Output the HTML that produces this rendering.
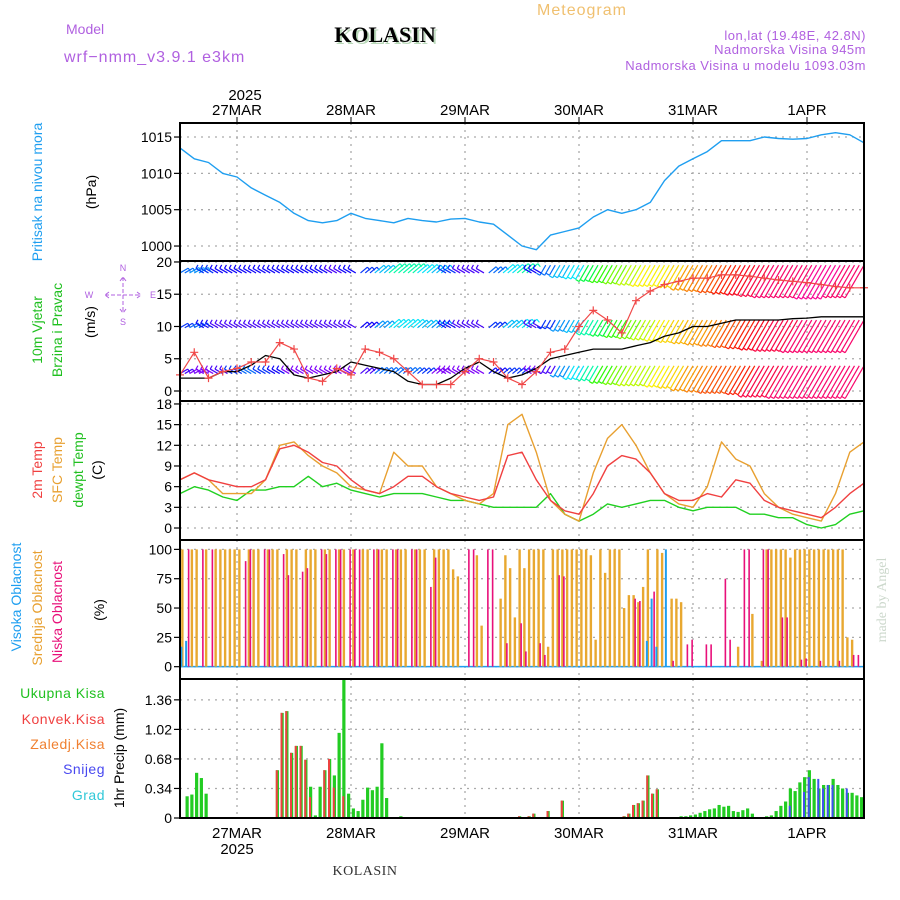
<!DOCTYPE html>
<html><head><meta charset="utf-8">
<style>
html,body{margin:0;padding:0;background:#fff;}
svg{display:block;font-family:"Liberation Sans",sans-serif;}
</style></head>
<body>
<svg id="chart" width="900" height="900" viewBox="0 0 900 900" xmlns="http://www.w3.org/2000/svg">
<rect x="0" y="0" width="900" height="900" fill="#fff"/>
<text x="582" y="15" font-size="16" fill="#f0c070" text-anchor="middle" letter-spacing="1">Meteogram</text>
<text x="66" y="34" font-size="14" fill="#b060e0">Model</text>
<text x="64" y="62" font-size="16" fill="#b060e0" letter-spacing="1">wrf−nmm_v3.9.1 e3km</text>
<text x="387" y="44" font-size="22" font-weight="bold" fill="#b8d8b8" text-anchor="middle" font-family="Liberation Serif,serif">KOLASIN</text>
<text x="385" y="42" font-size="22" font-weight="bold" fill="#000" text-anchor="middle" font-family="Liberation Serif,serif">KOLASIN</text>
<text x="866" y="40" font-size="13" fill="#b060e0" text-anchor="end" letter-spacing="0.5">lon,lat (19.48E, 42.8N)</text>
<text x="866" y="54" font-size="13" fill="#b060e0" text-anchor="end" letter-spacing="0.5">Nadmorska Visina 945m</text>
<text x="866" y="70" font-size="13" fill="#b060e0" text-anchor="end" letter-spacing="0.5">Nadmorska Visina u modelu 1093.03m</text>
<text x="245" y="100" font-size="15" fill="#000" text-anchor="middle">2025</text>
<text x="365" y="875" font-size="14" fill="#333" text-anchor="middle" font-family="Liberation Serif,serif" letter-spacing="0.5">KOLASIN</text>
<text x="237" y="854" font-size="15" fill="#000" text-anchor="middle">2025</text>
<text transform="translate(886,600) rotate(-90)" font-size="14" fill="#ccd8cc" text-anchor="middle" font-family="Liberation Serif,serif">made by Angel</text>
<g id="g"></g>
</svg>
<script>
// ---- data (time in hours from 26MAR 12:00) ----
const dayLabels=["27MAR","28MAR","29MAR","30MAR","31MAR","1APR"];
const dayHours=[12,36,60,84,108,132];
const pressure=[1013.5,1012,1011.5,1010,1009.5,1008,1007,1006,1004.5,1003.5,1003.2,1003.5,1004.5,1003.8,1003.5,1003.2,1003.8,1003.5,1003.3,1003.7,1003.8,1003.3,1003,1001.5,1000,999.5,1001.5,1002,1002.5,1004,1005,1004.5,1005,1006,1009,1011,1012,1013,1014.5,1014.5,1014.5,1015,1014.8,1014.7,1014.8,1015.3,1015.6,1015.3,1014.2];
const gust=[2.5,6,2,3,3.5,4.5,4.5,7.5,6.5,2,1.5,3.5,2.5,6.5,6,5,3,1,1,1,3,5,4.5,2,1,3,6,6.5,10,12.5,11,9,14,15.5,16.5,17,17.5,17.5,18,18,17.8,17.5,17.2,17,16.8,16.5,16.2,16,16];
const windSpeed=[2,2,2,3,3,4,5.5,5,2.5,2,2.5,3,4.5,4,3.5,3,1.5,1,1,2,3.5,4.5,3,2,2.5,3.5,5,5.5,6,6.5,6.5,6.5,7,7.5,8.5,9,10,10,10.5,11,11,11,11,11.2,11.3,11.5,11.5,11.5,11.5];
const windDir=[60,60,300,300,300,300,300,300,300,300,300,300,300,50,50,50,50,50,50,300,300,300,50,50,50,300,210,210,210,210,210,210,210,210,210,210,210,210,210,210,210,210,210,210,210,210,210,210,210];
const row1Speed=[8,9,7,6,6,6,6,6,6,6,6,5,6,7,10,12,12,11,10,7,5,5,8,11,12,6,8,10,11,13,14,15,16,17,17,18,20,21,22,23,24,25,26,26,26,27,27,26,26];
const row2Speed=[7,8,6,5,5,5,5,5,5,5,5,5,5,6,9,11,11,10,9,6,5,5,7,10,11,5,7,9,10,12,13,14,15,16,17,18,19,20,21,22,23,24,25,25,26,26,26,26,26];
const row3Speed=[5,4,4,5,7,8,7,6,3,3,3,3,3,5,8,8,8,7,4,3,3,3,6,7,7,4,5,9,11,12,14,15,16,16,17,18,20,21,22,22,23,25,25,26,26,26,26,26,26];
const temp2m=[7,8,7,6.5,6,6,7,11.5,12,11,9.5,9,7,5.5,5,6,7.5,7.5,6,5,4.5,4,4.5,10.5,11,7,4,2.5,2,5,9,10.5,10,8,5,4,4,5,4.5,7,6.5,4,3,2.5,2,1.5,3,5,6.5];
const tempSfc=[7,8,7,5,5,5,7,12,12.5,10.5,9,8,6,5.5,5,11,9,9,6,5,4,3.5,5,15,16.5,11,4,2,1,8,13,15,12,8,5,3.5,3,6,12.5,10,9,5,3,2,1.5,1,5,11,12.5];
const tempDew=[5,6,5.5,4.5,4,5.5,5.5,6,6,7.5,6,6.5,5.5,5,4.5,5,5,5,4.5,4,4,3.5,3,3,3,3,5,2,1,2,3.5,3,3.5,4,4,3,2.5,3,3,3,2,2,1.5,1.5,0.5,0,0.5,2,2.5];
// clouds (hourly, 144)
const midCloud=[100,0,100,100,0,100,0,100,100,100,100,100,100,0,100,100,100,0,100,100,100,0,100,100,100,0,100,100,100,0,100,100,0,100,100,0,100,0,100,100,0,100,100,100,0,100,100,100,0,100,100,100,0,100,100,100,100,83,77,0,0,0,95,35,0,0,0,58,95,84,42,100,84,100,100,100,100,17,100,100,100,100,100,100,100,100,95,23,100,80,100,100,100,50,61,61,55,68,100,0,100,97,0,58,58,55,0,0,0,0,0,0,0,0,0,0,0,17,0,0,45,0,5,100,100,100,100,100,93,100,100,100,100,100,100,100,100,100,100,100,25,23,0,0];
const lowHours=[1,4,6,13,14,17,18,21,22,25,26,29,30,32,33,35,36,37,40,41,44,45,48,49,52,53,60,61,64,65,68,71,72,75,76,79,80,95,96,99,103,106,107,110,111,114,115,118,119,122,123,126,127,130,131,134,138,141,142];
const lowCloud=[100,100,100,90,100,100,100,96,78,81,84,100,96,100,100,100,100,100,100,100,100,100,100,100,68,93,100,100,100,100,20,37,13,20,10,78,77,58,56,64,5,19,23,19,19,75,23,100,100,100,100,42,42,6,7,5,5,10,10];
const highHours=[0,1,98,99,100,102];
const highCloud=[17,22,22,58,17,100];
// precipitation
const precipHours=[1,2,3,4,5,6,20,21,22,23,24,25,26,27,28,29,30,31,32,33,34,35,36,37,38,39,40,41,42,43,46,71,73,74,77,80,93,94,95,96,97,98,99,100,105,106,107,108,109,110,111,112,113,114,115,116,117,118,119,120,123,124,125,126,127,128,129,130,131,132,133,134,135,136,137,138,139,140,141,142,143];
const precipTotal=[0.25,0.27,0.52,0.46,0.28,0.01,0.55,1.21,1.23,0.75,0.83,0.83,0.67,0.36,0.03,0.36,0.55,0.68,0.49,0.98,1.6,0.28,0.11,0.08,0.21,0.35,0.32,0.36,0.86,0.23,0.02,0.02,0.02,0.05,0.08,0.2,0.02,0.05,0.15,0.17,0.2,0.49,0.28,0.33,0.02,0.02,0.03,0.04,0.06,0.08,0.1,0.11,0.15,0.13,0.14,0.08,0.07,0.09,0.11,0.05,0.02,0.03,0.08,0.14,0.19,0.34,0.31,0.41,0.47,0.55,0.45,0.34,0.38,0.38,0.45,0.38,0.34,0.29,0.29,0.26,0.24];
const precipConv=[0,0,0,0,0,0,0.55,1.21,1.23,0.75,0.83,0.83,0.67,0.24,0,0,0.55,0.68,0.35,0,0.25,0,0,0,0,0,0,0,0,0,0,0.02,0.02,0.05,0.08,0.2,0.02,0.05,0.15,0.17,0.2,0.49,0.28,0.33,0,0,0,0,0,0,0,0,0,0,0,0,0,0,0,0,0,0,0,0,0,0,0,0,0,0,0,0,0,0,0,0,0,0,0,0,0];
const precipSnow=[0,0,0,0,0,0,0,0,0,0,0,0,0,0,0,0,0,0,0,0,0,0,0,0,0,0,0,0,0,0,0,0,0,0,0,0,0,0,0,0,0,0,0,0,0,0,0,0,0,0,0,0,0,0,0,0,0,0,0,0,0,0,0,0,0,0.14,0,0,0.3,0.47,0,0.45,0.34,0.38,0.38,0,0,0.34,0,0,0];
const pTicks=[1000,1005,1010,1015];
const wTicks=[0,5,10,15,20];
const tTicks=[0,3,6,9,12,15,18];
const cTicks=[0,25,50,75,100];
const rTicks=[0,0.34,0.68,1.02,1.36];

// ---- layout ----
const X0=180,X1=864,H0=0,H1=144;
const xs=h=>X0+(h-H0)/(H1-H0)*(X1-X0);
const NS="http://www.w3.org/2000/svg";
const G=document.getElementById('g');
function mk(tag,at,parent){const e=document.createElementNS(NS,tag);for(const k in at)e.setAttribute(k,at[k]);(parent||G).appendChild(e);return e;}
const panels=[
 {top:123,bot:261,min:997.94,max:1016.93,ticks:pTicks,fmt:v=>v},
 {top:261,bot:401,min:-1.55,max:20.15,ticks:wTicks,fmt:v=>v},
 {top:401,bot:540,min:-1.74,max:18.43,ticks:tTicks,fmt:v=>v},
 {top:540,bot:679,min:-10.5,max:108,ticks:cTicks,fmt:v=>v},
 {top:679,bot:818,min:0,max:1.6,ticks:rTicks,fmt:v=>v==0?'0':v.toFixed(2)}
];
panels.forEach(p=>{p.y=v=>p.bot-(v-p.min)/(p.max-p.min)*(p.bot-p.top);});
const names=['pressure','wind','temperature','cloud','precip'];
panels.forEach((p,i)=>{
  const g=mk('g',{});
  
  
  dayHours.forEach(h=>{const l=mk('line',{x1:xs(h),x2:xs(h),y1:p.top,y2:p.bot,stroke:'#aaa','stroke-width':1.3,'stroke-dasharray':'2,5'},g);
    });
  p.ticks.forEach(t=>{
    const yy=p.y(t);
    const l=mk('line',{x1:X0,x2:X1,y1:yy,y2:yy,stroke:'#aaa','stroke-width':1.3,'stroke-dasharray':'2,5'},g);
    
    const tk=mk('line',{x1:X0-6,x2:X0,y1:yy,y2:yy,stroke:'#000','stroke-width':1.2},g);
    
    const tx=mk('text',{x:X0-8,y:yy+5,'font-size':14,'text-anchor':'end',fill:'#000'},g);
    tx.textContent=p.fmt(t);
    
  });
});
dayLabels.forEach((d,i)=>{
  const t1=mk('text',{x:xs(dayHours[i]),y:115,'font-size':15,'text-anchor':'middle',fill:'#000'});t1.textContent=d;
  
  const k1=mk('line',{x1:xs(dayHours[i]),x2:xs(dayHours[i]),y1:117,y2:123,stroke:'#000'});
  
  const t2=mk('text',{x:xs(dayHours[i]),y:838,'font-size':15,'text-anchor':'middle',fill:'#000'});t2.textContent=d;
  
});
function line(vals,step,p,color,w,name){
  const pts=vals.map((v,i)=>xs(i*step).toFixed(1)+','+p.y(v).toFixed(1)).join(' ');
  const e=mk('polyline',{points:pts,fill:'none',stroke:color,'stroke-width':w,'stroke-linejoin':'round'});
  
  
  return e;
}
line(pressure,3,panels[0],'#1e9ef0',1.4,'pressure-line');
// wind barbs
const colorStops=[[4,270],[8,215],[11,185],[14,110],[17,58],[21,30],[24,355],[27,325]];
function hueFor(s){let h=colorStops[0][1];
  if(s>=colorStops[colorStops.length-1][0])h=colorStops[colorStops.length-1][1];
  else for(let k=0;k<colorStops.length-1;k++){const a=colorStops[k],b=colorStops[k+1];
    if(s>=a[0]&&s<b[0]){let hb=b[1];let ha=a[1];if(hb>ha+180)ha+=360;if(ha>hb+180)hb+=360;h=(ha+(hb-ha)*(s-a[0])/(b[0]-a[0]))%360;}}
  return 'hsl('+h+',95%,50%)';}
const rowLevels=[18.3,9.8,2.7];
[row1Speed,row2Speed,row3Speed].forEach((arr,r)=>{
  const p=panels[1];
  arr.forEach((s,i)=>{
    for(let k=0;k<3;k++){
      const h=i*3+k-1; if(h<0||h>144)continue;
      const down=windDir[i]>180&&windDir[i]<270;
      const x=xs(h),y=p.y(rowLevels[r]+(down?1.2:0));
      const L=Math.max(9,(down?1.45:1.2)*s);const a=windDir[i]*Math.PI/180;
      const ex=x+Math.sin(a)*L,ey=y-Math.cos(a)*L;
      const b=mk('line',{x1:x,y1:y,x2:ex,y2:ey,stroke:hueFor(s),'stroke-width':1.2});
      
      
      const bx=ex+Math.cos(a)*4,by=ey+Math.sin(a)*4;
      const t=mk('line',{x1:ex,y1:ey,x2:bx,y2:by,stroke:hueFor(s),'stroke-width':1.2});
      
      
    }
  });
});
line(windSpeed,3,panels[1],'#000',1.3,'wind-speed-line');
line(gust,3,panels[1],'#f04848',1.2,'wind-gust-line');
gust.forEach((v,i)=>{const x=xs(i*3),y=panels[1].y(v);
  const m=mk('path',{d:`M${x-4},${y}H${x+4}M${x},${y-4}V${y+4}`,stroke:'#f04848','stroke-width':1.2});
  });
line(tempDew,3,panels[2],'#20d020',1.4,'dewpoint-line');
line(tempSfc,3,panels[2],'#e8a030',1.4,'sfc-temp-line');
line(temp2m,3,panels[2],'#f04040',1.4,'temp-2m-line');
(function(){const p=panels[3];const y0=p.y(0);
  const base=mk('line',{x1:X0,x2:X1,y1:y0,y2:y0,stroke:'#1e9ef0','stroke-width':1.5});
  
  midCloud.forEach((v,h)=>{if(v<=0)return;const x=xs(h+0.5);
    const b=mk('rect',{x:x-1.2,y:p.y(v),width:2.4,height:y0-p.y(v),fill:'#e8a830'});
    });
  lowHours.forEach((h,i)=>{const v=lowCloud[i];const x=xs(h+0.5)+1.5;
    const b=mk('rect',{x:x-0.8,y:p.y(v),width:1.6,height:y0-p.y(v),fill:'#e8107a'});
    });
  highHours.forEach((h,i)=>{const v=highCloud[i];const x=xs(h+0.5)-1;
    const b=mk('rect',{x:x-1,y:p.y(v),width:2,height:y0-p.y(v),fill:'#1e9ef0'});
    });
})();
(function(){const p=panels[4];const y0=p.y(0);
  precipHours.forEach((h,i)=>{if(h>143.5)return;const x=xs(h+0.5);
    const t=precipTotal[i];
    const b=mk('rect',{x:x-1.6,y:p.y(t),width:3.2,height:y0-p.y(t),fill:'#22cc22'});
    
    const c=precipConv[i];if(c>0){const r=mk('rect',{x:x-1.6,y:p.y(c),width:2,height:y0-p.y(c),fill:'#f04040'});
      }
    const s=precipSnow[i];if(s>0){const r=mk('rect',{x:x-1.6,y:p.y(s),width:2,height:y0-p.y(s),fill:'#4050f0'});
      }
  });
})();
panels.forEach((p,i)=>{const r=mk('rect',{x:X0,y:p.top,width:X1-X0,height:p.bot-p.top,fill:'none',stroke:'#000','stroke-width':2});
  });
function vlab(txt,x,y,color,name,fs){const t=mk('text',{transform:`translate(${x},${y}) rotate(-90)`,'font-size':fs||14,fill:color,'text-anchor':'middle'});
  t.textContent=txt;}
vlab('Pritisak na nivou mora',42,192,'#1e9ef0','pressure-axis-title');
vlab('(hPa)',96,192,'#000','pressure-unit');
vlab('10m Vjetar',42,330,'#20c020','wind-axis-title');
vlab('Brzina i Pravac',62,330,'#20c020','wind-axis-subtitle');
vlab('(m/s)',95,322,'#000','wind-unit');
vlab('2m Temp',42,470,'#f04040','temp-2m-title');
vlab('SFC Temp',62,470,'#e8a030','sfc-temp-title');
vlab('dewpt Temp',83,470,'#20c020','dewpoint-title');
vlab('(C)',102,470,'#000','temp-unit');
vlab('Visoka Oblacnost',21,597,'#1e9ef0','high-cloud-title');
vlab('Srednja Oblacnost',42,608,'#e8a030','mid-cloud-title');
vlab('Niska Oblacnost',62,612,'#e8107a','low-cloud-title');
vlab('(%)',104,610,'#000','cloud-unit');
vlab('1hr Precip (mm)',124,758,'#000','precip-unit');
[['Ukupna Kisa','#20c020',698],['Konvek.Kisa','#f04040',724],['Zaledj.Kisa','#f08030',749],['Snijeg','#4848f0',774],['Grad','#30c8d8',800]].forEach(a=>{
  const t=mk('text',{x:105,y:a[2],'font-size':14,fill:a[1],'text-anchor':'end','letter-spacing':'0.5'});t.textContent=a[0];
  });
(function(){const g=mk('g',{fill:'#b060e0','font-size':9});
  
  const cx=123,cy=295;
  mk('text',{x:cx,y:cy-24,'text-anchor':'middle'},g).textContent='N';
  mk('text',{x:cx,y:cy+24+6,'text-anchor':'middle'},g).textContent='S';
  mk('text',{x:cx-34,y:cy+3,'text-anchor':'middle'},g).textContent='W';
  mk('text',{x:cx+30,y:cy+3,'text-anchor':'middle'},g).textContent='E';
  mk('path',{d:`M${cx-18},${cy}H${cx+18}M${cx},${cy-18}V${cy+18}M${cx-14},${cy-3}L${cx-18},${cy}L${cx-14},${cy+3}M${cx+14},${cy-3}L${cx+18},${cy}L${cx+14},${cy+3}M${cx-3},${cy-14}L${cx},${cy-18}L${cx+3},${cy-14}M${cx-3},${cy+14}L${cx},${cy+18}L${cx+3},${cy+14}`,stroke:'#b060e0',fill:'none','stroke-dasharray':'4,2'},g);
})();
</script>
</body></html>
